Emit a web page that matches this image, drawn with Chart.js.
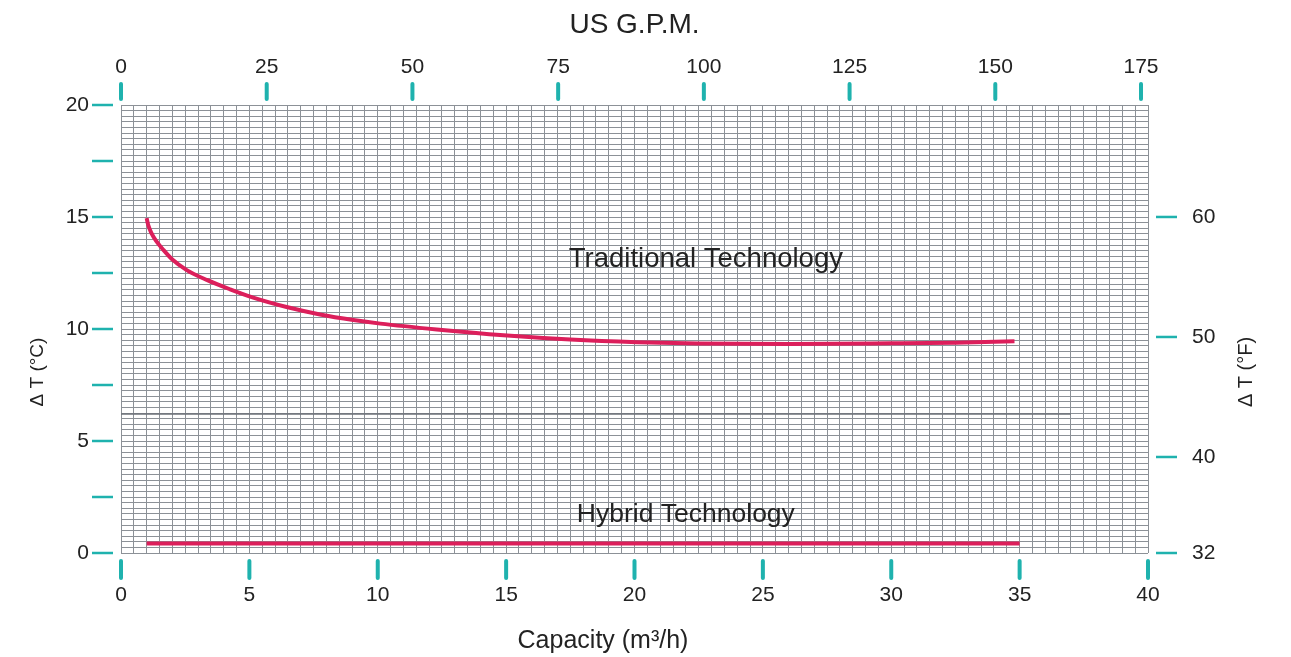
<!DOCTYPE html>
<html>
<head>
<meta charset="utf-8">
<script src="https://cdn.jsdelivr.net/npm/chart.js@4"></script>
<style>
  html, body { margin: 0; padding: 0; background: #fff; }
  canvas { display: block; }
</style>
</head>
<body>
<canvas id="c" width="1291" height="657"></canvas>
<script>
// ---- data ----
const tradCapacity = [1.0, 1.06, 1.19, 1.39, 1.65, 2.0, 2.56, 3.34, 4.25, 5.15, 6.45, 7.75, 9.05, 10.1, 12.3, 14.9, 17.5, 20.1, 22.5, 26.0, 30.0, 32.5, 34.8];
const tradDeltaT   = [14.95, 14.64, 14.27, 13.9, 13.53, 13.1, 12.63, 12.19, 11.77, 11.40, 10.98, 10.65, 10.40, 10.24, 9.98, 9.72, 9.53, 9.41, 9.35, 9.33, 9.36, 9.39, 9.45];
const hybridCapacity = [1.0, 35.0];
const hybridDeltaT   = [0.42, 0.42];
const refLineCapacity = [0, 37.0];
const refLineDeltaT   = [6.2, 6.2];

const capacityTicks = [0, 5, 10, 15, 20, 25, 30, 35, 40];
const gpmTicks = [0, 25, 50, 75, 100, 125, 150, 175];
const celsiusTickMarks = [0, 2.5, 5, 7.5, 10, 12.5, 15, 17.5, 20];
const celsiusLabels = [0, 5, 10, 15, 20];
const fahrenheitTicks = [32, 40, 50, 60];

const seriesLabels = ['Traditional Technology', 'Hybrid Technology'];

// ---- helpers ----
const toPts = (xs, ys) => xs.map((x, i) => ({ x: x, y: ys[i] }));
const FONT = "'Liberation Sans', Arial, Helvetica, sans-serif";
const TEAL = '#1fb2ae';
const CURVE = '#dc1f5b';
const GRID = '#8c9197';

const textPlugin = {
  id: 'extras',
  afterDraw(chart) {
    const ctx = chart.ctx;
    const sx = chart.scales.x, sy = chart.scales.y, sx2 = chart.scales.x2, sy2 = chart.scales.y2;
    const area = chart.chartArea;
    ctx.save();
    ctx.strokeStyle = TEAL;
    ctx.lineCap = 'round';
    // bottom tick marks
    ctx.lineWidth = 4;
    capacityTicks.forEach(v => {
      const px = sx.getPixelForValue(v);
      ctx.beginPath(); ctx.moveTo(px, area.bottom + 8); ctx.lineTo(px, area.bottom + 25); ctx.stroke();
    });
    // top tick marks
    gpmTicks.forEach(v => {
      const px = sx2.getPixelForValue(v);
      ctx.beginPath(); ctx.moveTo(px, area.top - 21); ctx.lineTo(px, area.top - 6); ctx.stroke();
    });
    // left tick marks
    ctx.lineWidth = 2.5;
    ctx.lineCap = 'butt';
    celsiusTickMarks.forEach(v => {
      const py = sy.getPixelForValue(v);
      ctx.beginPath(); ctx.moveTo(area.left - 29, py); ctx.lineTo(area.left - 8, py); ctx.stroke();
    });
    // right tick marks
    fahrenheitTicks.forEach(v => {
      const py = sy2.getPixelForValue(v);
      ctx.beginPath(); ctx.moveTo(area.right + 8, py); ctx.lineTo(area.right + 29, py); ctx.stroke();
    });

    // series labels
    ctx.fillStyle = '#222';
    ctx.textAlign = 'center';
    ctx.textBaseline = 'middle';
    ctx.font = '27.5px ' + FONT;
    ctx.fillText(seriesLabels[0], sx.getPixelForValue(22.78), sy.getPixelForValue(13.1));
    ctx.font = '26.5px ' + FONT;
    ctx.fillText(seriesLabels[1], sx.getPixelForValue(22.0), sy.getPixelForValue(1.7));

    // axis titles
    ctx.font = '25px ' + FONT;
    ctx.fillText('Capacity (m³/h)', 603, 641);
    ctx.save();
    ctx.font = '19px ' + FONT;
    ctx.translate(38, 372); ctx.rotate(-Math.PI / 2);
    ctx.fillText('Δ T (°C)', 0, 0);
    ctx.restore();
    ctx.save();
    ctx.font = '20px ' + FONT;
    ctx.translate(1246, 372); ctx.rotate(-Math.PI / 2);
    ctx.fillText('Δ T (°F)', 0, 0);
    ctx.restore();
    ctx.restore();
  }
};

const tickFont = { family: FONT, size: 21 };

new Chart(document.getElementById('c'), {
  type: 'line',
  data: {
    datasets: [
      {
        label: 'ref',
        data: toPts(refLineCapacity, refLineDeltaT),
        borderColor: '#6c7278', borderWidth: 1.5, pointRadius: 0, fill: false,
        xAxisID: 'x', yAxisID: 'y'
      },
      {
        label: seriesLabels[0],
        data: toPts(tradCapacity, tradDeltaT),
        borderColor: CURVE, borderWidth: 4, pointRadius: 0, fill: false,
        cubicInterpolationMode: 'monotone',
        xAxisID: 'x', yAxisID: 'y'
      },
      {
        label: seriesLabels[1],
        data: toPts(hybridCapacity, hybridDeltaT),
        borderColor: CURVE, borderWidth: 4, pointRadius: 0, fill: false,
        xAxisID: 'x', yAxisID: 'y'
      }
    ]
  },
  options: {
    responsive: false,
    animation: false,
    events: [],
    layout: { padding: 0 },
    plugins: { legend: { display: false }, tooltip: { enabled: false }, title: { display: false } },
    scales: {
      x: {
        type: 'linear', position: 'bottom', min: 0, max: 40,
        border: { display: false },
        grid: { color: GRID, lineWidth: 1, drawTicks: false },
        ticks: {
          stepSize: 0.5, autoSkip: false, maxRotation: 0, padding: 30,
          color: '#222', font: tickFont,
          callback: v => (capacityTicks.includes(v) ? String(v) : '')
        },
        afterFit: s => { s.height = 104; }
      },
      x2: {
        type: 'linear', position: 'top', min: 0, max: 176.2,
        border: { display: false },
        grid: { display: false, drawTicks: false },
        afterBuildTicks: s => { s.ticks = gpmTicks.map(v => ({ value: v })); },
        ticks: { autoSkip: false, maxRotation: 0, padding: 25, color: '#222', font: tickFont },
        title: { display: true, text: 'US G.P.M.', color: '#222', font: { family: FONT, size: 28 }, padding: { top: 8, bottom: 0 } },
        afterFit: s => { s.height = 105; }
      },
      y: {
        type: 'linear', position: 'left', min: 0, max: 20,
        border: { display: false },
        grid: { color: GRID, lineWidth: 1, drawTicks: false },
        ticks: {
          stepSize: 0.25, autoSkip: false, padding: 32,
          color: '#222', font: tickFont,
          callback: v => (celsiusLabels.includes(v) ? String(v) : '')
        },
        afterFit: s => { s.width = 121; }
      },
      y2: {
        type: 'linear', position: 'right', min: 32, max: 69.33,
        border: { display: false },
        grid: { display: false, drawTicks: false },
        afterBuildTicks: s => { s.ticks = fahrenheitTicks.map(v => ({ value: v })); },
        ticks: { autoSkip: false, padding: 44, color: '#222', font: tickFont },
        afterFit: s => { s.width = 143; }
      }
    }
  },
  plugins: [textPlugin]
});
</script>
</body>
</html>
